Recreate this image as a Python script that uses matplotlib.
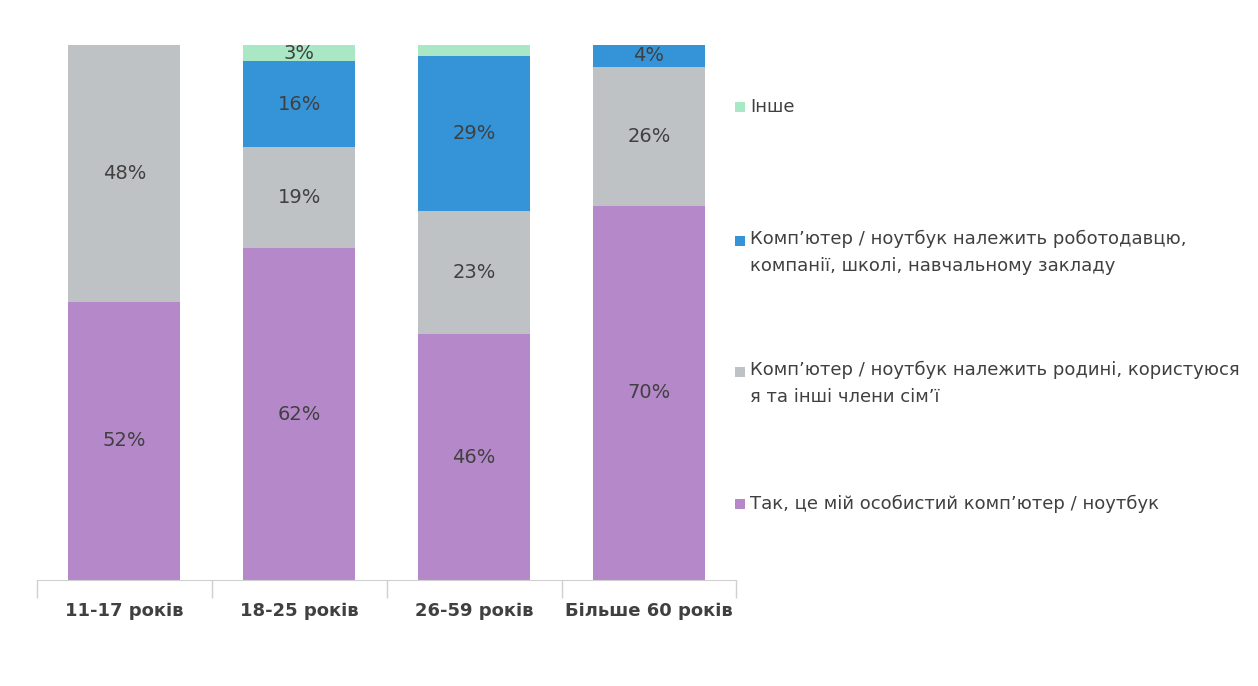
import matplotlib
matplotlib.use('Agg')
import matplotlib.pyplot as plt
from matplotlib.patches import Rectangle
import numpy as np

# дані
categories = ['11-17 років', '18-25 років', '26-59 років', 'Більше 60 років']
personal = [52, 62, 46, 70]
family = [48, 19, 23, 26]
employer = [0, 16, 29, 4]
other = [0, 3, 2, 0]

series_labels = [
    'Так, це мій особистий комп’ютер / ноутбук',
    'Комп’ютер / ноутбук належить родині, користуюся\nя та інші члени сім’ї',
    'Комп’ютер / ноутбук належить роботодавцю,\nкомпанії, школі, навчальному закладу',
    'Інше',
]
colors = ['#B589C9', '#BFC2C4', '#3593D7', '#A9E7C5']
text_color = '#404040'

fig = plt.figure(figsize=(12.58, 6.86), dpi=100)
ax = fig.add_axes([0.0294, 0.1545, 0.556, 0.7795])

x = np.arange(len(categories))
series = [personal, family, employer, other]
bottom = np.zeros(len(categories))
for vals, col in zip(series, colors):
    vals = np.array(vals, dtype=float)
    ax.bar(x, vals, width=0.64, bottom=bottom, color=col, linewidth=0)
    for xi, v, b in zip(x, vals, bottom):
        if v >= 3:
            ax.text(xi, b + v / 2, f'{int(v)}%', ha='center', va='center',
                    fontsize=14, color=text_color)
    bottom += vals

ax.set_xlim(-0.5, 3.5)
ax.set_ylim(0, 100)
for s in ['top', 'right', 'left']:
    ax.spines[s].set_visible(False)
ax.spines['bottom'].set_color('#D0D0D0')
ax.set_yticks([])
ax.set_xticks(x)
ax.set_xticklabels(categories, fontsize=13, fontweight='bold', color=text_color)
ax.tick_params(axis='x', length=0, pad=16)
# роздільники категорій під віссю
ax.set_xticks(np.arange(-0.5, 4.0, 1.0), minor=True)
ax.tick_params(axis='x', which='minor', length=13, color='#D0D0D0', width=1)

# легенда вручну (y першого рядка в пікселях)
W, H = 1258, 686
legend_y = {3: 107, 2: 241, 1: 372, 0: 504}
for idx, y0 in legend_y.items():
    fig.add_artist(Rectangle((735 / W, 1 - (y0 + 5) / H), 10 / W, 10 / H,
                             transform=fig.transFigure, color=colors[idx], linewidth=0))
    if '\n' in series_labels[idx]:
        fig.text(750 / W, 1 - (y0 - 11) / H, series_labels[idx], ha='left', va='top',
                 fontsize=13, color=text_color, linespacing=1.6)
    else:
        fig.text(750 / W, 1 - y0 / H, series_labels[idx], ha='left', va='center',
                 fontsize=13, color=text_color)

fig.savefig('out.png', dpi=100, facecolor='white')
